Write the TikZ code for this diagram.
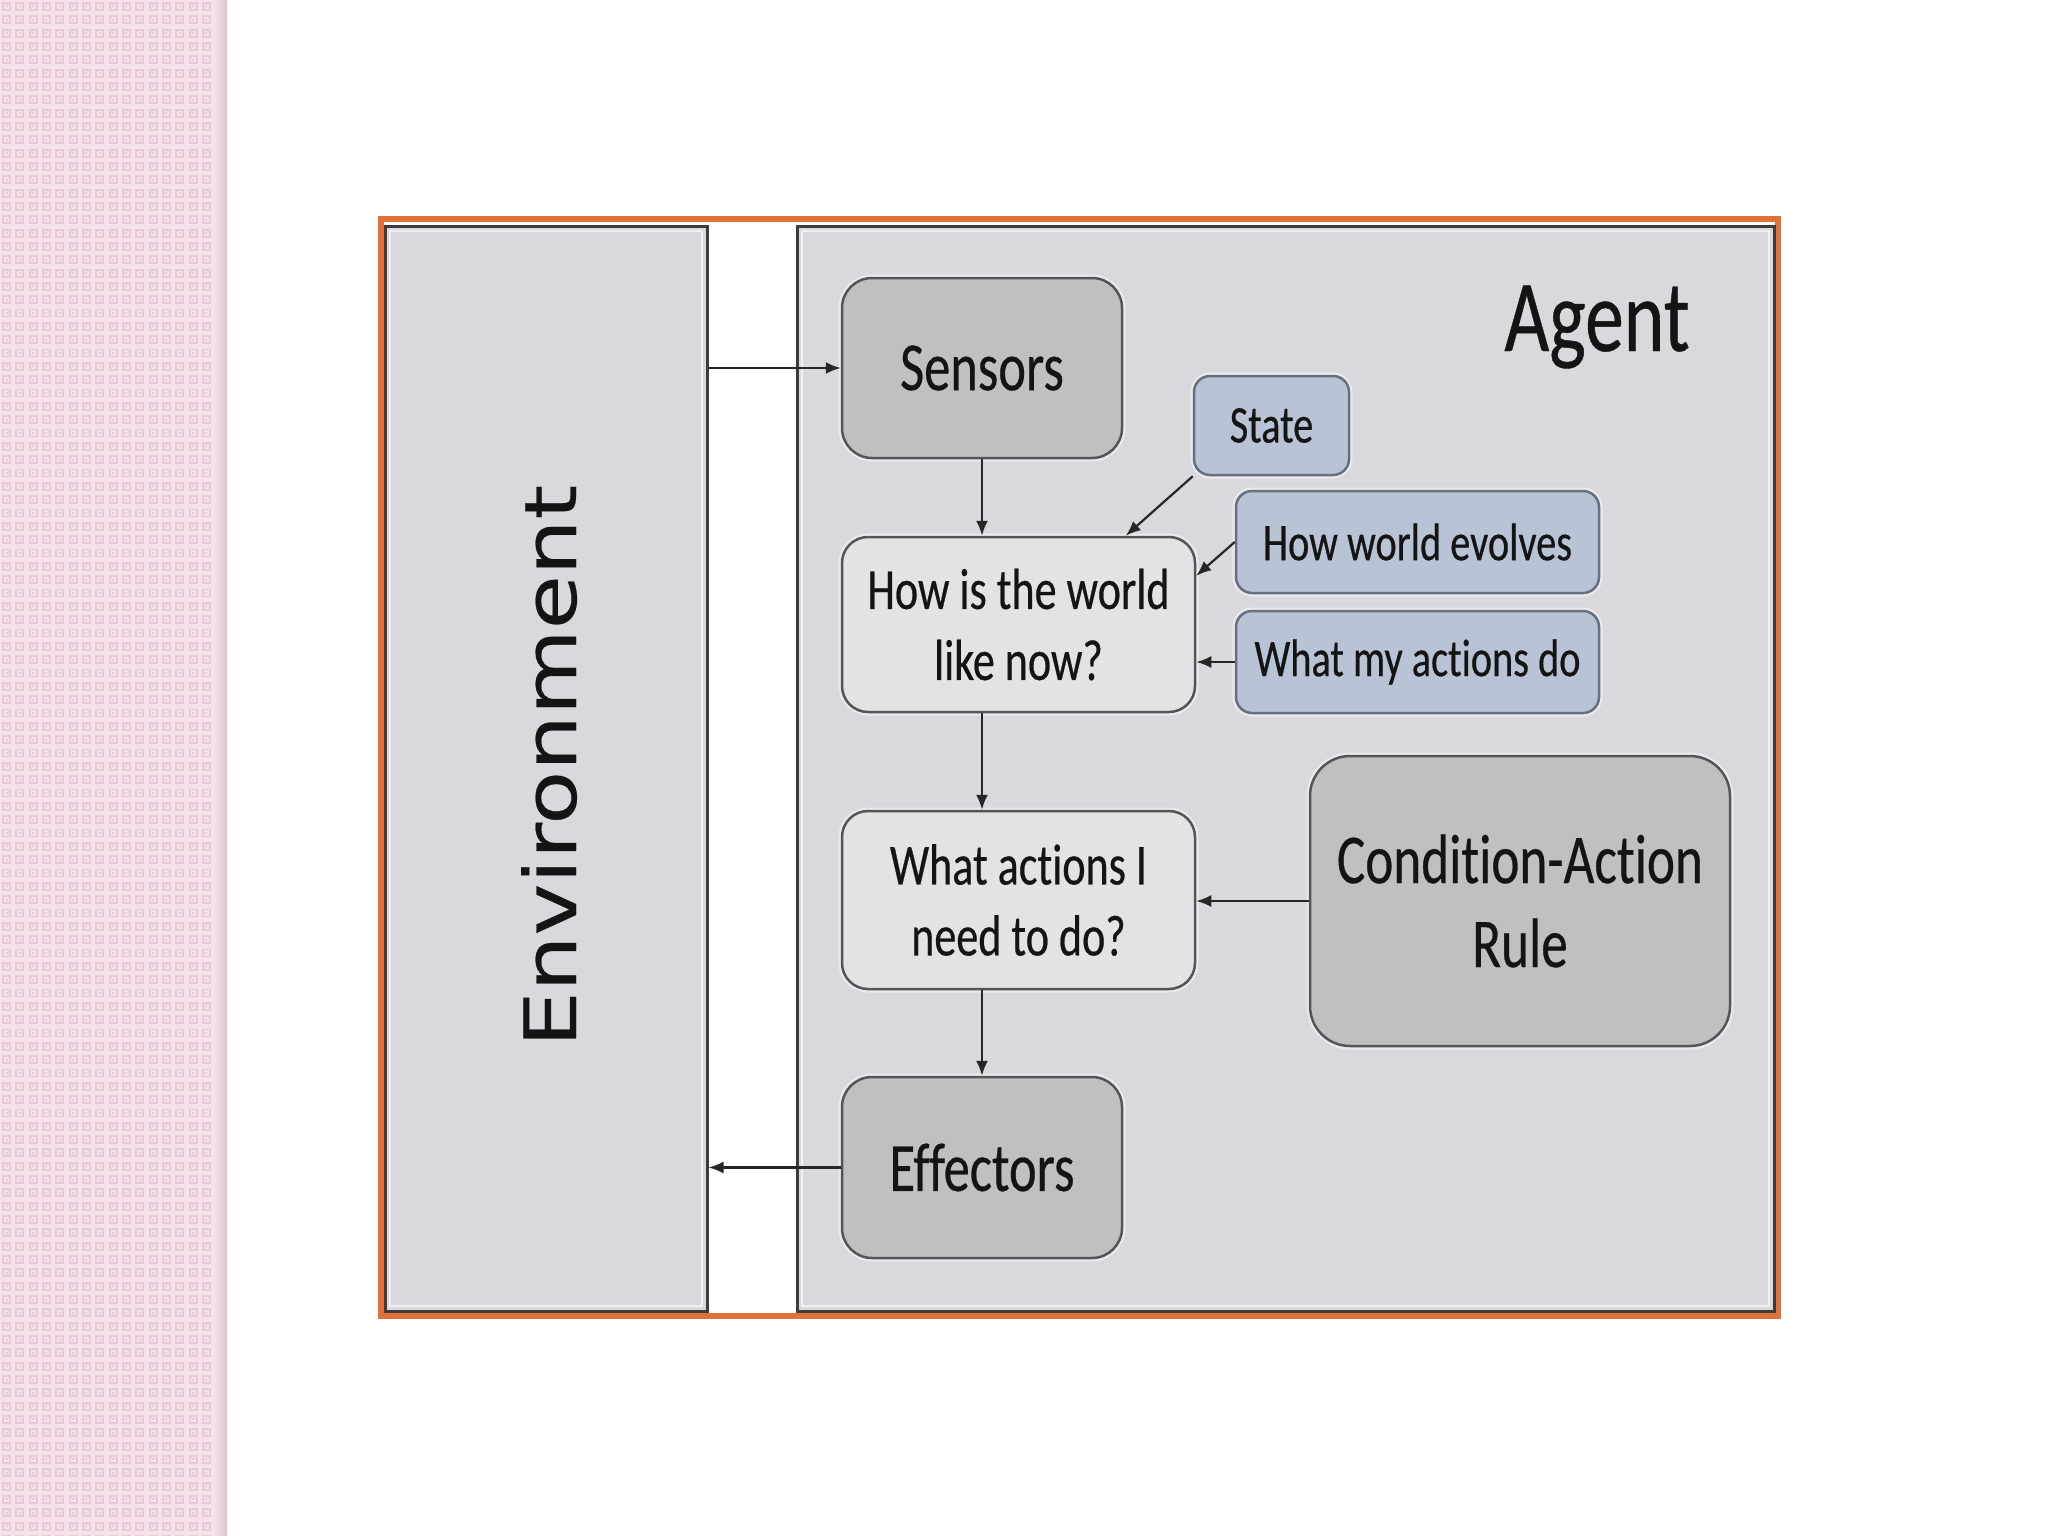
\documentclass[tikz,border=0pt]{standalone}
\usepackage{fontspec}
\usetikzlibrary{arrows.meta,calc}
\newfontfamily\calf[FakeStretch=0.76, FakeBold=0.4, Ligatures={NoCommon}]{Carlito}
\newfontfamily\envf[FakeBold=0.3]{DejaVu Sans}
\definecolor{pinkbase}{HTML}{F4E1EA}
\definecolor{pinkd}{HTML}{E8C9D7}
\definecolor{pinkedge}{HTML}{DCC3CF}
\definecolor{orangef}{HTML}{E2703A}
\definecolor{panelf}{HTML}{D9D8DC}
\definecolor{panell}{HTML}{3C3C3C}
\definecolor{dgray}{HTML}{C0C0C2}
\definecolor{lgray}{HTML}{E3E3E5}
\definecolor{boxl}{HTML}{555557}
\definecolor{bluef}{HTML}{B8C3D5}
\definecolor{bluel}{HTML}{66707F}
\definecolor{txt}{HTML}{141414}
\definecolor{arrc}{HTML}{262626}
\begin{document}
\begin{tikzpicture}[x=1pt,y=-1pt,
  panel/.style={draw=panell, line width=3pt, fill=panelf, inner sep=0pt},
  box/.style={draw=boxl, line width=2.5pt, inner sep=0pt, text=txt, align=center,
    preaction={draw=white, line width=7pt, opacity=0.45}},
  darkbox/.style={box, fill=dgray, rounded corners=30pt, font=\calf\fontsize{69}{83}\selectfont},
  lightbox/.style={box, fill=lgray, rounded corners=26pt, minimum width=353pt, font=\calf\fontsize{58}{71}\selectfont},
  bluebox/.style={box, fill=bluef, draw=bluel, rounded corners=16pt, font=\calf\fontsize{53}{64}\selectfont},
  arr/.style={draw=arrc, line width=2.2pt, -{Latex[length=15pt,width=12pt]}}]
\useasboundingbox (0,0) rectangle (2048,1536);
\fill[white] (0,0) rectangle (2048,1536);
% pink strip
\fill[pinkbase] (0,0) rectangle (226,1536);
\foreach \i in {0,...,16} {
  \foreach \j in {0,...,115} {
    \draw[pinkd, line width=1.8pt] (\i*13.33+3, \j*13.33+3) rectangle ++(7,7);
    \fill[pinkd] (\i*13.33+5.5, \j*13.33+5.5) rectangle ++(2,2);
  }
}
\shade[left color=pinkbase, right color=pinkedge] (214,0) rectangle (227,1536);
% frame
\draw[orangef, line width=6pt] (381,219) rectangle (1778,1316);
\node[panel, minimum width=322pt, minimum height=1085pt] (env) at (546,768.5) {};
\node[panel, minimum width=977pt, minimum height=1085pt] (agent) at (1285.5,768.5) {};
\draw[white, line width=2pt, opacity=0.6] (390,231) rectangle (702,1306);
\draw[white, line width=2pt, opacity=0.6] (802,231) rectangle (1769,1306);
% labels
\node[rotate=90, anchor=base, inner sep=0pt, text=txt, font=\envf\fontsize{88}{100}\selectfont] (envlabel) at (576,766) {\scalebox{1}[0.82]{Environment}};
\node[anchor=base, inner sep=0pt, text=txt, font=\calf\fontsize{102}{120}\selectfont] (agentlabel) at (1597,351) {Agent};
% boxes
\node[darkbox, minimum width=280pt, minimum height=180pt] (sensors) at (982,368) {Sensors};
\node[bluebox, minimum width=155pt, minimum height=99pt] (state) at (1271.5,425.5) {State};
\node[bluebox, minimum width=363pt, minimum height=102pt] (hwe) at (1417.5,542) {How world evolves};
\node[bluebox, minimum width=363pt, minimum height=102pt] (wmad) at (1417.5,662) {What my actions do};
\node[lightbox, minimum height=175pt] (how) at (1018.5,624.5) {How is the world\\like now?};
\node[lightbox, minimum height=178pt] (what) at (1018.5,900) {What actions I\\need to do?};
\node[darkbox, rounded corners=40pt, minimum width=420pt, minimum height=290pt, font=\calf\fontsize{70}{84}\selectfont] (cond) at (1520,901) {Condition-Action\\Rule};
\node[darkbox, minimum width=280pt, minimum height=181pt] (eff) at (982,1167.5) {Effectors};
% connectors
\coordinate (statetip) at ($(how.north west)+(285,0)$);
\coordinate (hwetip) at ($(how.north east)+(0,40)$);
\draw[arr] (env.east |- sensors.west) -- (sensors.west);
\draw[arr] (sensors.south) -- (sensors.south |- how.north);
\draw[arr] (state.south west) -- (statetip);
\draw[arr] (hwe.west) -- (hwetip);
\draw[arr] (wmad.west) -- (wmad.west -| how.east);
\draw[arr] (how.south -| sensors.south) -- (what.north -| sensors.south);
\draw[arr] (cond.west) -- (cond.west -| what.east);
\draw[arr] (what.south -| eff.north) -- (eff.north);
\draw[arr] (eff.west) -- (eff.west -| env.east);
\end{tikzpicture}
\end{document}
